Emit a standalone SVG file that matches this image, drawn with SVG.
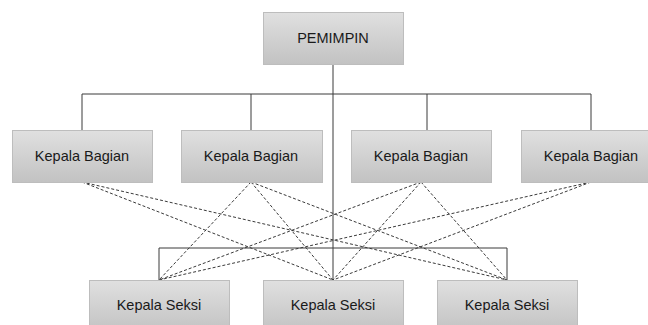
<svg xmlns="http://www.w3.org/2000/svg" width="648" height="325" viewBox="0 0 648 325">
<defs>
<linearGradient id="g" x1="0" y1="0" x2="0" y2="1">
<stop offset="0" stop-color="#e0e0e0"/>
<stop offset="1" stop-color="#c2c2c2"/>
</linearGradient>
<style>
.box{fill:url(#g);stroke:#bdbdbd;stroke-width:1}
.t{font-family:"Liberation Sans",Arial,sans-serif;font-size:14.5px;fill:#1a1a1a;text-anchor:middle;dominant-baseline:central}
.s{stroke:#3a3a3a;stroke-width:1;fill:none}
.d{stroke:#3a3a3a;stroke-width:1;fill:none;stroke-dasharray:3 2}
</style>
</defs>
<rect width="648" height="325" fill="#ffffff"/>
<g id="connectors">
<path class="s" d="M333 64V280M82 94H591M82 94V130M251 94V130M427 94V130M591 94V130M159 248H507M159 248V280M507 248V280"/>
<path class="d" d="M82 182L333 280M82 182L507 280M251 182L159 280M251 182L333 280M251 182L507 280M421 182L159 280M421 182L333 280M421 182L507 280M591 182L159 280M591 182L333 280"/>
</g>
<g id="pemimpin"><rect class="box" x="263.5" y="12.5" width="140" height="52"/><text class="t" x="333" y="38">PEMIMPIN</text></g>
<g id="bagian1"><rect class="box" x="12.5" y="130.5" width="140" height="52"/><text class="t" x="82" y="156">Kepala Bagian</text></g>
<g id="bagian2"><rect class="box" x="181.5" y="130.5" width="141" height="52"/><text class="t" x="251" y="156">Kepala Bagian</text></g>
<g id="bagian3"><rect class="box" x="351.5" y="130.5" width="140" height="52"/><text class="t" x="421" y="156">Kepala Bagian</text></g>
<g id="bagian4"><rect class="box" x="521.5" y="130.5" width="140" height="52"/><text class="t" x="591" y="156">Kepala Bagian</text></g>
<g id="seksi1"><rect class="box" x="89.5" y="280.5" width="140" height="52"/><text class="t" x="159" y="305">Kepala Seksi</text></g>
<g id="seksi2"><rect class="box" x="263.5" y="280.5" width="140" height="52"/><text class="t" x="333" y="305">Kepala Seksi</text></g>
<g id="seksi3"><rect class="box" x="437.5" y="280.5" width="140" height="52"/><text class="t" x="507" y="305">Kepala Seksi</text></g>
</svg>
